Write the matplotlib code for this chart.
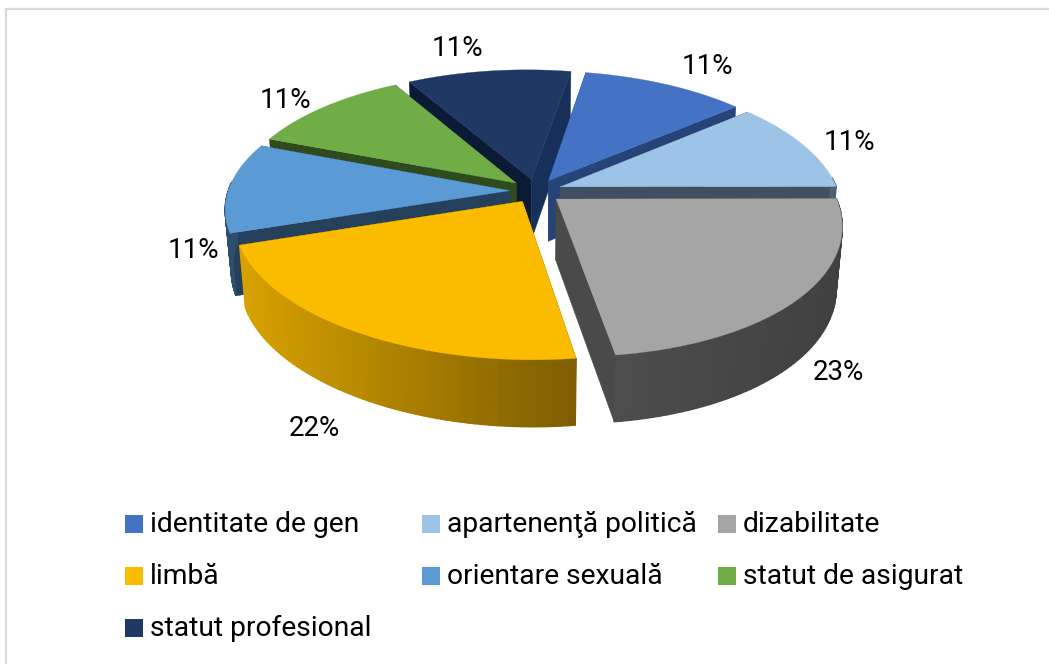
import numpy as np
import matplotlib
matplotlib.use("Agg")
import matplotlib.pyplot as plt
from matplotlib.patches import Rectangle
from matplotlib.colors import to_rgb

plt.rcParams['font.family'] = ['Roboto', 'DejaVu Sans']

categories = ["identitate de gen", "apartenenţă politică", "dizabilitate",
              "limbă", "orientare sexuală", "statut de asigurat", "statut profesional"]
values = [11, 11, 23, 22, 11, 11, 11]

colors = ["#4472c4", "#9dc3e6", "#a5a5a5", "#fbbc00", "#5b9bd5", "#70ad47", "#1f3864"]
# left-hand and right-hand cut face colours, and outer-side shade from left to right
cut_left = ["#264478", "#3f5060", "#4a4a4a", "#7f6000", "#25405a", "#2f4a1c", "#0b1a35"]
cut_right = ["#264478", "#3f5060", "#4a4a4a", "#7f6000", "#25405a", "#2f4a1c", "#16305a"]
side_shade = [(.56, .56), (.5, .5), (.47, .39), (.86, .5), (.5, .5), (.5, .5), (.5, .5)]
draw_order = [6, 0, 5, 1, 4, 2, 3]

CX, CY, R, Q, P, SKEW, EXPL, DEPTH = 536, 191, 280, 130, .157, 6, .093, 61
START = 79.4

label_xy = [(707, 67), (849, 143), (838, 372), (314, 428), (193, 251), (285, 101), (457, 48)]
legend_cols = [125, 422, 718]
legend_rows = [524, 576, 628]


def project(u, v, drop=0.0):
    w = 1 / (1 - P * v)
    x = CX + R * u * w + SKEW * v * w - 1.75 * u * u - .25 * u + 5 * np.maximum(v, 0) ** 2
    y = CY + Q * v * w + drop * np.sqrt(w)
    if drop:
        x = CX + (x - CX) * 0.98
    return x, y


def darker(c, f):
    return tuple(x * f for x in to_rgb(c))


fig = plt.figure(figsize=(10.49, 6.64), dpi=100, facecolor="white")
ax = fig.add_axes([0, 0, 1, 1])
ax.set_xlim(0, 1049)
ax.set_ylim(664, 0)
ax.axis("off")

ax.plot([6, 6, 1049], [664, 8.5, 8.5], color="#d9d9d9", lw=1.6, solid_joinstyle="miter")

fractions = np.array(values) / sum(values)
ends = START - 360 * np.cumsum(fractions)
starts = np.concatenate([[START], ends[:-1]])

for i in draw_order:
    a0, a1 = np.radians(starts[i]), np.radians(ends[i])
    mid = (a0 + a1) / 2
    ox, oy = EXPL * np.cos(mid), -EXPL * np.sin(mid)
    th = np.linspace(a0, a1, 60)
    u = ox + np.cos(th)
    v = oy - np.sin(th)

    # cut faces
    for (ue, ve, col) in ((u[0], v[0], cut_left[i]), (u[-1], v[-1], cut_right[i])):
        xa, ya = project(ox, oy)
        xe, ye = project(ue, ve)
        xa2, ya2 = project(ox, oy, DEPTH)
        xe2, ye2 = project(ue, ve, DEPTH)
        ax.fill([xa, xe, xe2, xa2], [ya, ye, ye2, ya2], color=col, lw=0.3, zorder=1)

    # outer side, front-facing part
    xt, yt = project(u, v)
    xb, yb = project(u, v, DEPTH)
    vis = np.sin(th) < 0.08
    if vis.any():
        xmin, xmax = xt[vis].min(), xt[vis].max()
        for k in range(len(th) - 1):
            if vis[k] and vis[k + 1]:
                t = (xt[k] - xmin) / max(xmax - xmin, 1)
                f = side_shade[i][0] + (side_shade[i][1] - side_shade[i][0]) * t
                c = darker(colors[i], f)
                ax.fill([xt[k], xt[k + 1], xb[k + 1], xb[k]],
                        [yt[k], yt[k + 1], yb[k + 1], yb[k]],
                        facecolor=c, edgecolor=c, lw=1.0, zorder=1)

    # top
    xa, ya = project(ox, oy)
    ax.fill(np.r_[xa, xt], np.r_[ya, yt], color=colors[i], lw=0.2, zorder=1)

for val, (x, y) in zip(values, label_xy):
    ax.text(x, y, f"{val}%", ha="center", va="center", fontsize=20, color="black")

for idx, name in enumerate(categories):
    col, row = idx % 3, idx // 3
    x, y = legend_cols[col], legend_rows[row]
    ax.add_patch(Rectangle((x, y - 9), 18, 18, facecolor=colors[idx], edgecolor="none"))
    ax.text(x + 25, y, name, ha="left", va="center", fontsize=20.3, color="black")

fig.savefig("out.png", dpi=100)
